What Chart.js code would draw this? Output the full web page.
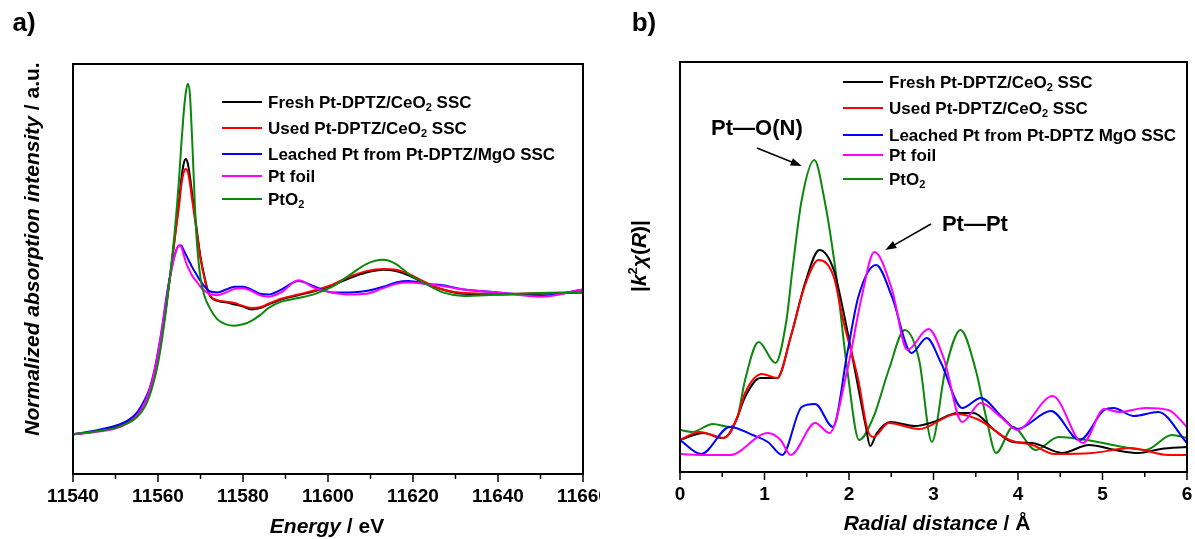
<!DOCTYPE html>
<html><head><meta charset="utf-8">
<script src="https://cdn.jsdelivr.net/npm/chart.js@4"></script>
<style>
body{margin:0;background:#fff;width:1195px;height:539px;overflow:hidden;position:relative}
canvas{position:absolute;top:0}
#xanes{left:0}
#ft{left:600px}
</style></head><body>
<canvas id="xanes" width="600" height="539"></canvas>
<canvas id="ft" width="595" height="539"></canvas>
<script>
// ---- a) XANES, energy in eV ----
const energy = [11540, 11545, 11550, 11553, 11555, 11557, 11558, 11559, 11560, 11561, 11562, 11563, 11564, 11565, 11565.5, 11566, 11566.5, 11567, 11567.5, 11568, 11569, 11570, 11571, 11572, 11574, 11576, 11578, 11580, 11582, 11584, 11586, 11589, 11593, 11597, 11601, 11605, 11609, 11613, 11616, 11619, 11623, 11627, 11632, 11640, 11650, 11660];
const xanesFresh = [0.00, 0.02, 0.05, 0.09, 0.14, 0.23, 0.30, 0.40, 0.54, 0.71, 0.92, 1.15, 1.40, 1.66, 1.80, 1.90, 1.94, 1.91, 1.82, 1.70, 1.47, 1.25, 1.10, 0.99, 0.94, 0.93, 0.915, 0.90, 0.88, 0.89, 0.915, 0.95, 0.98, 1.01, 1.05, 1.10, 1.14, 1.16, 1.15, 1.12, 1.06, 1.02, 0.99, 0.985, 0.99, 1.00];
const xanesUsed = [0.00, 0.02, 0.05, 0.09, 0.14, 0.23, 0.30, 0.40, 0.54, 0.71, 0.92, 1.15, 1.39, 1.62, 1.76, 1.84, 1.87, 1.85, 1.77, 1.66, 1.45, 1.24, 1.09, 0.99, 0.945, 0.935, 0.925, 0.905, 0.89, 0.895, 0.92, 0.955, 0.985, 1.015, 1.055, 1.11, 1.15, 1.165, 1.16, 1.13, 1.07, 1.02, 0.995, 0.99, 0.995, 1.00];
const xanesLeached = [0.00, 0.025, 0.06, 0.10, 0.15, 0.25, 0.32, 0.43, 0.58, 0.76, 0.97, 1.14, 1.27, 1.33, 1.33, 1.30, 1.27, 1.24, 1.21, 1.18, 1.13, 1.08, 1.04, 1.01, 1.00, 1.02, 1.04, 1.04, 1.02, 0.99, 0.985, 1.02, 1.08, 1.04, 1.00, 1.00, 1.01, 1.04, 1.07, 1.08, 1.06, 1.05, 1.02, 1.00, 0.975, 1.02];
const xanesFoil = [0.00, 0.015, 0.04, 0.08, 0.13, 0.23, 0.31, 0.42, 0.57, 0.75, 0.95, 1.13, 1.27, 1.33, 1.32, 1.27, 1.22, 1.18, 1.15, 1.12, 1.08, 1.04, 1.01, 0.99, 0.98, 1.00, 1.025, 1.03, 1.01, 0.98, 0.97, 1.00, 1.085, 1.03, 1.00, 0.985, 0.99, 1.03, 1.06, 1.07, 1.06, 1.045, 1.02, 1.00, 0.97, 1.02];
const xanesPtO2 = [0.00, 0.02, 0.045, 0.08, 0.12, 0.20, 0.27, 0.37, 0.50, 0.68, 0.90, 1.16, 1.45, 1.82, 2.05, 2.25, 2.40, 2.47, 2.40, 2.10, 1.42, 1.10, 0.97, 0.90, 0.81, 0.775, 0.765, 0.775, 0.80, 0.84, 0.89, 0.935, 0.96, 0.99, 1.04, 1.12, 1.20, 1.23, 1.20, 1.13, 1.06, 1.00, 0.975, 0.985, 0.995, 1.00];

// ---- b) FT-EXAFS, R in Angstrom ----
const freshR = [0, 0.28, 0.5, 0.59, 0.68, 0.77, 0.95, 1.15, 1.31, 1.48, 1.65, 1.82, 1.93, 2.07, 2.2, 2.25, 2.33, 2.49, 2.78, 3.0, 3.29, 3.47, 3.72, 3.94, 4.17, 4.52, 4.84, 5.15, 5.42, 5.69, 6];
const ftFresh = [0.32, 0.39, 0.34, 0.39, 0.55, 0.75, 0.94, 0.94, 1.35, 1.89, 2.22, 2.02, 1.62, 1.02, 0.45, 0.26, 0.39, 0.50, 0.46, 0.50, 0.59, 0.59, 0.42, 0.30, 0.29, 0.19, 0.27, 0.22, 0.19, 0.23, 0.25];
const usedR = [0, 0.23, 0.52, 0.68, 0.77, 0.97, 1.15, 1.31, 1.48, 1.64, 1.82, 1.93, 2.11, 2.22, 2.29, 2.47, 2.83, 3.27, 3.54, 3.9, 4.17, 4.43, 4.88, 5.33, 5.78, 6];
const ftUsed = [0.32, 0.40, 0.34, 0.55, 0.79, 0.98, 0.94, 1.35, 1.87, 2.12, 1.95, 1.52, 0.92, 0.42, 0.35, 0.49, 0.43, 0.58, 0.52, 0.32, 0.27, 0.18, 0.19, 0.24, 0.17, 0.17];
const leachedR = [0, 0.25, 0.59, 0.86, 1.04, 1.21, 1.44, 1.6, 1.81, 1.98, 2.11, 2.32, 2.51, 2.74, 2.92, 3.09, 3.34, 3.56, 3.81, 3.99, 4.39, 4.73, 5.02, 5.13, 5.37, 5.66, 6];
const ftLeached = [0.32, 0.18, 0.45, 0.37, 0.30, 0.17, 0.65, 0.68, 0.45, 1.19, 1.75, 2.07, 1.75, 1.19, 1.34, 1.09, 0.64, 0.74, 0.55, 0.43, 0.61, 0.32, 0.62, 0.64, 0.56, 0.60, 0.29];
const foilR = [0, 0.3, 0.59, 1.04, 1.19, 1.31, 1.6, 1.77, 1.98, 2.15, 2.3, 2.51, 2.69, 2.94, 3.12, 3.34, 3.56, 3.81, 3.99, 4.41, 4.77, 5.02, 5.2, 5.51, 5.78, 6];
const ftFoil = [0.18, 0.17, 0.17, 0.39, 0.32, 0.17, 0.49, 0.39, 1.02, 1.75, 2.20, 1.82, 1.22, 1.43, 1.14, 0.50, 0.69, 0.54, 0.42, 0.76, 0.29, 0.63, 0.60, 0.64, 0.62, 0.45];
const pto2R = [0, 0.14, 0.39, 0.59, 0.68, 0.77, 0.93, 1.13, 1.26, 1.33, 1.44, 1.59, 1.71, 1.84, 1.98, 2.12, 2.29, 2.47, 2.66, 2.83, 2.98, 3.14, 3.32, 3.5, 3.63, 3.74, 3.94, 4.21, 4.48, 4.88, 5.24, 5.51, 5.82, 6];
const ftPtO2 = [0.42, 0.40, 0.48, 0.45, 0.55, 0.92, 1.30, 1.09, 1.52, 2.02, 2.72, 3.12, 2.72, 2.02, 1.02, 0.32, 0.55, 1.02, 1.42, 1.12, 0.30, 1.02, 1.42, 1.02, 0.52, 0.19, 0.45, 0.22, 0.35, 0.31, 0.25, 0.22, 0.37, 0.34];

const FONT = '"Liberation Sans", Arial, sans-serif';
const bold = s => `bold ${s}px ${FONT}`;
const boldIt = s => `italic bold ${s}px ${FONT}`;
const colors = {fresh: '#000000', used: '#ff0000', leached: '#0000ff', foil: '#ff00ff', pto2: '#0a880a'};

const pts = (xs, ys) => xs.map((x, i) => ({x: x, y: ys[i]}));

function series(label, xs, ys, color, order) {
    return {label, data: pts(xs, ys), borderColor: color, borderWidth: 2, pointRadius: 0,
        cubicInterpolationMode: 'monotone', fill: false, order};
}

// draw a row of text pieces with different fonts (sub/superscripts)
function drawRuns(ctx, runs, x, y, align, rotate) {
    ctx.save();
    ctx.translate(x, y);
    if (rotate) ctx.rotate(-Math.PI / 2);
    let w = 0;
    runs.forEach(r => { ctx.font = r.font; w += ctx.measureText(r.text).width; });
    let cx = align === 'center' ? -w / 2 : 0;
    ctx.textBaseline = 'middle';
    ctx.textAlign = 'left';
    ctx.fillStyle = '#000';
    runs.forEach(r => {
        ctx.font = r.font;
        ctx.fillText(r.text, cx, r.dy || 0);
        cx += ctx.measureText(r.text).width;
    });
    ctx.restore();
}

function sample(name, sub, rest) {
    const runs = [{text: name, font: bold(17)}];
    if (sub) runs.push({text: sub, font: bold(11), dy: 5});
    if (rest) runs.push({text: rest, font: bold(17)});
    return runs;
}

function arrow(ctx, x1, y1, x2, y2) {
    const a = Math.atan2(y2 - y1, x2 - x1);
    ctx.beginPath();
    ctx.moveTo(x1, y1);
    ctx.lineTo(x2 - 6 * Math.cos(a), y2 - 6 * Math.sin(a));
    ctx.stroke();
    ctx.beginPath();
    ctx.moveTo(x2, y2);
    ctx.lineTo(x2 - 11 * Math.cos(a) + 4 * Math.sin(a), y2 - 11 * Math.sin(a) - 4 * Math.cos(a));
    ctx.lineTo(x2 - 11 * Math.cos(a) - 4 * Math.sin(a), y2 - 11 * Math.sin(a) + 4 * Math.cos(a));
    ctx.closePath();
    ctx.fill();
}

// frame, minor/major ticks, titles, legend
function decor(opts) {
    return {
        id: 'decor',
        afterDraw(chart) {
            const ctx = chart.ctx, a = chart.chartArea, xs = chart.scales.x;
            ctx.save();
            ctx.strokeStyle = '#000';
            ctx.fillStyle = '#000';
            ctx.lineWidth = 2;
            ctx.strokeRect(a.left, a.top, a.right - a.left, a.bottom - a.top);
            ctx.lineWidth = 1.5;
            const ticks = xs.ticks.map(t => t.value);
            ticks.forEach((v, i) => {
                const px = xs.getPixelForValue(v);
                ctx.beginPath(); ctx.moveTo(px, a.bottom); ctx.lineTo(px, a.bottom + 8); ctx.stroke();
                if (i < ticks.length - 1) {
                    const mx = xs.getPixelForValue((v + ticks[i + 1]) / 2);
                    ctx.beginPath(); ctx.moveTo(mx, a.bottom); ctx.lineTo(mx, a.bottom + 5); ctx.stroke();
                }
            });
            // legend
            opts.legend.forEach((it, i) => {
                const y = opts.legendY[i];
                ctx.strokeStyle = it.color;
                ctx.lineWidth = 2;
                ctx.beginPath(); ctx.moveTo(opts.legendX, y); ctx.lineTo(opts.legendX + 40, y); ctx.stroke();
                drawRuns(ctx, it.runs, opts.legendX + 46, y + 1, 'left', false);
            });
            drawRuns(ctx, opts.xTitle, opts.xTitlePos[0], opts.xTitlePos[1], 'center', false);
            drawRuns(ctx, opts.yTitle, opts.yTitlePos[0], opts.yTitlePos[1], 'center', true);
            drawRuns(ctx, [{text: opts.panel, font: bold(26)}], opts.panelPos[0], opts.panelPos[1], 'center', false);
            if (opts.extra) opts.extra(chart, ctx);
            ctx.restore();
        }
    };
}

function axes(xMin, xMax, step, yMin, yMax, leftW, bottomH) {
    return {
        x: {type: 'linear', min: xMin, max: xMax,
            grid: {display: false, drawTicks: true, tickLength: 8}, border: {display: false},
            ticks: {stepSize: step, color: '#000', font: {family: FONT, size: 19, weight: 'bold'}, padding: 3,
                maxRotation: 0, autoSkip: false, callback: v => String(v)},
            afterFit: s => { s.height = bottomH; s.paddingLeft = 0; s.paddingRight = 0; }},
        y: {min: yMin, max: yMax, grid: {display: false}, border: {display: false},
            ticks: {display: false},
            afterFit: s => { s.width = leftW; s.paddingTop = 0; s.paddingBottom = 0; }}
    };
}

const base = {responsive: false, animation: false, events: [],
    plugins: {legend: {display: false}, tooltip: {enabled: false}}};

new Chart(document.getElementById('xanes'), {
    type: 'line',
    data: {datasets: [
        series('Fresh Pt-DPTZ/CeO2 SSC', energy, xanesFresh, colors.fresh, 4),
        series('Used Pt-DPTZ/CeO2 SSC', energy, xanesUsed, colors.used, 3),
        series('Leached Pt from Pt-DPTZ/MgO SSC', energy, xanesLeached, colors.leached, 2),
        series('Pt foil', energy, xanesFoil, colors.foil, 1),
        series('PtO2', energy, xanesPtO2, colors.pto2, 0)
    ]},
    options: Object.assign({}, base, {
        layout: {padding: {top: 64, right: 17, left: 0, bottom: 0}},
        scales: axes(11540, 11660, 20, -0.28, 2.61, 73, 65)
    }),
    plugins: [decor({
        legendX: 222, legendY: [102, 128, 154, 176, 199],
        legend: [
            {color: colors.fresh, runs: sample('Fresh Pt-DPTZ/CeO', '2', ' SSC')},
            {color: colors.used, runs: sample('Used Pt-DPTZ/CeO', '2', ' SSC')},
            {color: colors.leached, runs: sample('Leached Pt from Pt-DPTZ/MgO SSC')},
            {color: colors.foil, runs: sample('Pt foil')},
            {color: colors.pto2, runs: sample('PtO', '2')}
        ],
        xTitle: [{text: 'Energy', font: boldIt(21)}, {text: ' / eV', font: bold(21)}],
        xTitlePos: [327, 527],
        yTitle: [{text: 'Normalized absorption intensity', font: boldIt(21)}, {text: ' / a.u.', font: bold(21)}],
        yTitlePos: [33, 249],
        panel: 'a)', panelPos: [24, 24]
    })]
});

new Chart(document.getElementById('ft'), {
    type: 'line',
    data: {datasets: [
        series('Fresh Pt-DPTZ/CeO2 SSC', freshR, ftFresh, colors.fresh, 3),
        series('Used Pt-DPTZ/CeO2 SSC', usedR, ftUsed, colors.used, 2),
        series('Leached Pt from Pt-DPTZ MgO SSC', leachedR, ftLeached, colors.leached, 1),
        series('Pt foil', foilR, ftFoil, colors.foil, 0),
        series('PtO2', pto2R, ftPtO2, colors.pto2, 4)
    ]},
    options: Object.assign({}, base, {
        layout: {padding: {top: 62, right: 8, left: 0, bottom: 0}},
        scales: axes(0, 6, 1, 0, 4.1, 80, 67)
    }),
    plugins: [decor({
        legendX: 243, legendY: [82, 108, 135, 155, 179],
        legend: [
            {color: colors.fresh, runs: sample('Fresh Pt-DPTZ/CeO', '2', ' SSC')},
            {color: colors.used, runs: sample('Used Pt-DPTZ/CeO', '2', ' SSC')},
            {color: colors.leached, runs: sample('Leached Pt from Pt-DPTZ MgO SSC')},
            {color: colors.foil, runs: sample('Pt foil')},
            {color: colors.pto2, runs: sample('PtO', '2')}
        ],
        xTitle: [{text: 'Radial distance', font: boldIt(21)}, {text: ' / Å', font: bold(21)}],
        xTitlePos: [337, 524],
        yTitle: [{text: '|', font: bold(21)}, {text: 'k', font: boldIt(21)}, {text: '2', font: bold(13), dy: -7},
            {text: 'χ', font: boldIt(21)}, {text: '(', font: bold(21)}, {text: 'R', font: boldIt(21)}, {text: ')|', font: bold(21)}],
        yTitlePos: [40, 256],
        panel: 'b)', panelPos: [44, 24],
        extra: (chart, ctx) => {
            const x = chart.scales.x, y = chart.scales.y;
            ctx.strokeStyle = '#000'; ctx.fillStyle = '#000'; ctx.lineWidth = 1.5;
            drawRuns(ctx, [{text: 'Pt—O(N)', font: bold(22)}], x.getPixelForValue(0.91), y.getPixelForValue(3.43), 'center', false);
            arrow(ctx, x.getPixelForValue(0.91), y.getPixelForValue(3.24), x.getPixelForValue(1.44), y.getPixelForValue(3.06));
            drawRuns(ctx, [{text: 'Pt—Pt', font: bold(22)}], x.getPixelForValue(3.49), y.getPixelForValue(2.47), 'center', false);
            arrow(ctx, x.getPixelForValue(2.97), y.getPixelForValue(2.48), x.getPixelForValue(2.43), y.getPixelForValue(2.22));
        }
    })]
});
</script>
</body></html>
